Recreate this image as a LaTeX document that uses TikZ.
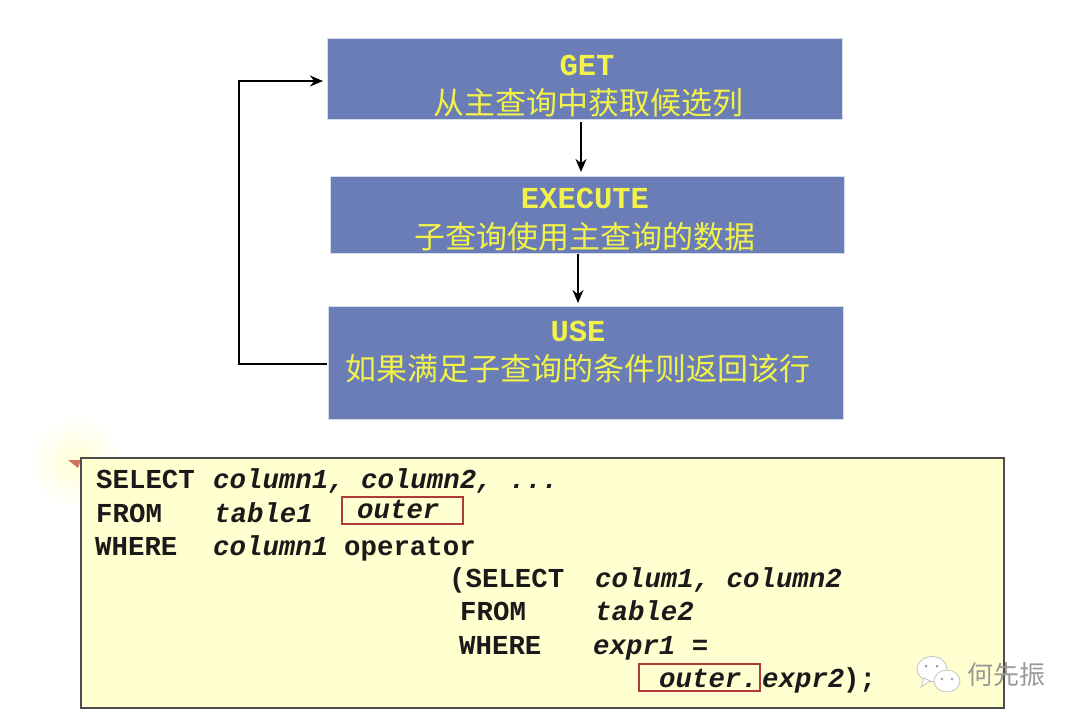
\documentclass[tikz,border=0pt]{standalone}
\usepackage{fontspec}
\setmonofont{Liberation Mono}
\newfontfamily\cjk{Noto Sans CJK SC}
\usetikzlibrary{arrows.meta}
\definecolor{boxblue}{HTML}{6A7DB6}
\definecolor{boxedge}{HTML}{D5DCEC}
\definecolor{boxyellow}{HTML}{FFFFCF}
\definecolor{titleyellow}{HTML}{F2F24A}
\definecolor{redbox}{HTML}{B03A3A}
\definecolor{codeblack}{HTML}{1A1A1A}
\definecolor{wm}{HTML}{9A9A9A}
\tikzset{
  x=1pt,y=-1pt,
  flow/.style={draw=boxedge,line width=1pt,fill=boxblue,inner sep=0pt,outer sep=0pt},
  ttl/.style={text=titleyellow,font=\ttfamily\bfseries\fontsize{30.5}{30}\selectfont,anchor=base,inner sep=0pt},
  cn/.style={text=titleyellow,font=\cjk\fontsize{31}{31}\selectfont,anchor=base,inner sep=0pt},
  kw/.style={text=codeblack,font=\ttfamily\bfseries\fontsize{27.4}{27}\selectfont,anchor=base west,inner sep=0pt},
  it/.style={text=codeblack,font=\ttfamily\bfseries\itshape\fontsize{27.4}{27}\selectfont,anchor=base west,inner sep=0pt},
  mk/.style={draw=redbox,line width=2pt,inner sep=0pt,outer sep=0pt},
  flowline/.style={draw=black,line width=2.4pt,-{Stealth[length=13pt,width=11pt]}},
}
\begin{document}
\begin{tikzpicture}
\useasboundingbox (0,0) rectangle (1080,721);
\fill[white] (0,0) rectangle (1080,721);
% pale glow behind the code box corner
\shade[inner color=yellow!16,outer color=white,draw=none] (76,462) circle[radius=48];
\fill[red!65!black,opacity=.55] (68,460) -- (81,460) -- (78,468) -- cycle;
% flow boxes
\path[flow] (327,38) rectangle (842,119);
\path[flow] (330,176) rectangle (844,253);
\path[flow] (328,306) rectangle (843,419);
\coordinate (getw) at (323,81);
\coordinate (gets) at (581,122);
\coordinate (exen) at (581,172);
\coordinate (exes) at (578,254);
\coordinate (usen) at (578,303);
\coordinate (usew) at (327,364);
\coordinate (turnb) at (239,364);
\coordinate (turnt) at (239,81);
\node[ttl] (t1) at (587,75) {GET};
\node[cn] (c1) at (588,114) {从主查询中获取候选列};
\node[ttl] (t2) at (585,208) {EXECUTE};
\node[cn] (c2) at (585,248) {子查询使用主查询的数据};
\node[ttl] (t3) at (578,341) {USE};
\node[cn] (c3) at (578,380) {如果满足子查询的条件则返回该行};
\draw[flowline] (gets) -- (exen);
\draw[flowline] (exes) -- (usen);
\draw[flowline] (usew) -- (turnb) -- (turnt) -- (getw);
% code box
\path[draw=black!70,line width=1.4pt,fill=boxyellow] (81,458) rectangle (1004,708);
\path[mk] (342,497) rectangle (463,524);
\path[mk] (639,664) rectangle (760,691);
\node[kw] (k1) at (96,488) {SELECT};
\node[it] (k2) at (213,488) {column1, column2, ...};
\node[kw] (k3) at (96,522) {FROM};
\node[it] (k4) at (214,522) {table1};
\node[it] (k5) at (357,518) {outer};
\node[kw] (k6) at (95,555) {WHERE};
\node[it] (k7) at (213,555) {column1};
\node[kw] (k8) at (344,555) {operator};
\node[kw] (k9) at (449,587) {(SELECT};
\node[it] (k10) at (595,587) {colum1, column2};
\node[kw] (k11) at (460,620) {FROM};
\node[it] (k12) at (595,620) {table2};
\node[kw] (k13) at (459,654) {WHERE};
\node[it] (k14) at (593,654) {expr1 =};
\node[it] (k15) at (659,687) {outer.};
\node[it] (k16) at (762,687) {expr2};
\node[kw] (k17) at (843,687) {);};
% watermark
\draw[wm!60,fill=white,line width=.8pt] (932,669) ellipse[x radius=15,y radius=12.5];
\draw[wm!60,fill=white,line width=.8pt] (921,687) -- (924,678) -- (930,681) -- cycle;
\draw[wm!60,fill=white,line width=.8pt] (947,681) ellipse[x radius=13,y radius=11];
\fill[wm] (926,666) circle[radius=1.5] (937,666) circle[radius=1.5] (942,679) circle[radius=1.4] (952,679) circle[radius=1.4];
\node[text=wm,font=\cjk\fontsize{26}{26}\selectfont,anchor=base west,inner sep=0pt] (w) at (967,684) {何先振};
\end{tikzpicture}
\end{document}
